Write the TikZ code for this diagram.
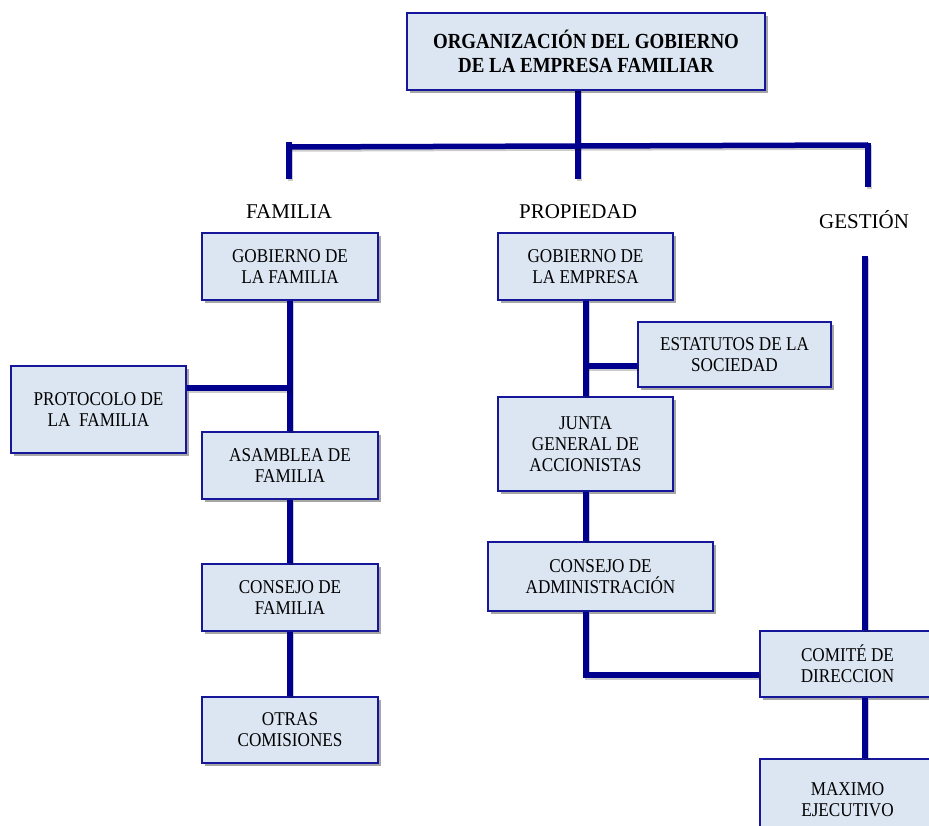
\documentclass[tikz,border=0pt]{standalone}
\usepackage{fontspec}
\setmainfont{Liberation Serif}
\newfontfamily\boxfont[FakeStretch=0.88]{Liberation Serif}
\usetikzlibrary{shadows}
\definecolor{boxfill}{HTML}{DCE6F2}
\definecolor{boxline}{HTML}{16169A}
\definecolor{connline}{HTML}{00008F}
\tikzset{
  orgbox/.style={draw=boxline, line width=2pt, fill=boxfill, inner sep=0pt,
    align=center, font=\boxfont\fontsize{19.5}{21}\selectfont,
    drop shadow={shadow xshift=2.5pt, shadow yshift=-3pt, opacity=0.35, fill=black}},
  titlebox/.style={orgbox, font=\boxfont\bfseries\fontsize{21.5}{24}\selectfont},
  grouplabel/.style={font=\fontsize{21}{24}\selectfont, inner sep=0pt},
  conn/.style={draw=connline, line width=5.5pt,
    preaction={draw=black, draw opacity=0.2, line width=5.5pt,
      transform canvas={shift={(1.5pt,-2pt)}}}}
}
\begin{document}
\begin{tikzpicture}[x=1pt, y=-1pt]
\useasboundingbox (0,0) rectangle (929,826);
\clip (0,0) rectangle (929,826);

% connector coordinates
\coordinate (tl) at (289,142);
\coordinate (tlb) at (289,179);
\coordinate (bl) at (289,147);
\coordinate (br) at (868,145);
\coordinate (tr) at (868,143);
\coordinate (trb) at (868,187);
\coordinate (tc) at (578,90);
\coordinate (tcb) at (578,179);
\coordinate (pj) at (290,388);
\coordinate (ej) at (586,366);
\coordinate (cj) at (586,675);
\coordinate (gl) at (865,256);

% labels
\node[grouplabel] (lfam) at (289,212) {FAMILIA};
\node[grouplabel] (lprop) at (578,212) {PROPIEDAD};
\node[grouplabel] (lges) at (864,220) {GESTIÓN};

% connectors (drawn first, under boxes)
\draw[conn] (tc) -- (tcb);
\draw[conn] (tl) -- (tlb);
\draw[conn] (bl) -- (br);
\draw[conn] (tr) -- (trb);

% boxes
\node[titlebox, minimum width=358, minimum height=77] (title) at (586,51.5)
  {ORGANIZACIÓN DEL GOBIERNO\\DE LA EMPRESA FAMILIAR};

\node[orgbox, minimum width=176, minimum height=67] (gfam) at (290,266.5)
  {GOBIERNO DE\\LA FAMILIA};
\node[orgbox, minimum width=175, minimum height=87] (proto) at (98.5,409.5)
  {PROTOCOLO DE\\LA\ \ FAMILIA};
\node[orgbox, minimum width=176, minimum height=67] (asam) at (290,465.5)
  {ASAMBLEA DE\\FAMILIA};
\node[orgbox, minimum width=176, minimum height=67] (cfam) at (290,597.5)
  {CONSEJO DE\\FAMILIA};
\node[orgbox, minimum width=176, minimum height=66] (otras) at (290,730)
  {OTRAS\\COMISIONES};

\node[orgbox, minimum width=175, minimum height=67] (gemp) at (585.5,266.5)
  {GOBIERNO DE\\LA EMPRESA};
\node[orgbox, minimum width=193, minimum height=65] (estat) at (734.5,354.5)
  {ESTATUTOS DE LA\\SOCIEDAD};
\node[orgbox, minimum width=175, minimum height=94] (junta) at (585.5,444)
  {JUNTA\\GENERAL DE\\ACCIONISTAS};
\node[orgbox, minimum width=225, minimum height=69] (cadm) at (600.5,576.5)
  {CONSEJO DE\\ADMINISTRACIÓN};

\node[orgbox, minimum width=175, minimum height=66] (comite) at (847.5,664)
  {COMITÉ DE\\DIRECCION};
\node[orgbox, minimum width=175, minimum height=81] (maximo) at (847.5,799.5)
  {MAXIMO\\EJECUTIVO};

% connectors between boxes
\draw[conn] (gfam.south -| pj) -- (asam.north -| pj);
\draw[conn] (proto.east |- pj) -- (pj);
\draw[conn] (asam.south -| pj) -- (cfam.north -| pj);
\draw[conn] (cfam.south -| pj) -- (otras.north -| pj);

\draw[conn] (gemp.south -| ej) -- (junta.north -| ej);
\draw[conn] (estat.west |- ej) -- (ej);
\draw[conn] (junta.south -| ej) -- (cadm.north -| ej);
\draw[conn] (cadm.south -| cj) -- (cj) -- (comite.west |- cj);

\draw[conn] (gl) -- (comite.north -| gl);
\draw[conn] (comite.south -| gl) -- (maximo.north -| gl);
\end{tikzpicture}
\end{document}
